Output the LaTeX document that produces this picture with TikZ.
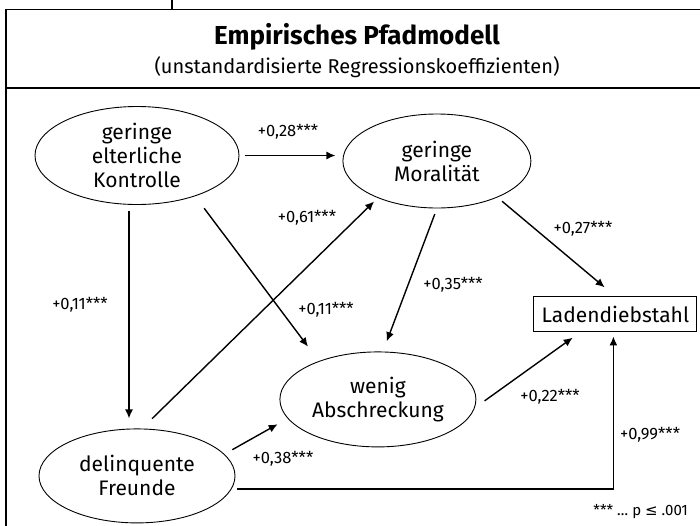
\documentclass[tikz,border=0pt]{standalone}
\usepackage{fontspec}
\setmainfont{Fira Sans}
\newfontfamily\symfont{DejaVu Sans}
\usetikzlibrary{arrows.meta,positioning,shapes.geometric}

\begin{document}
\begin{tikzpicture}[
	x = 1pt, y = 1pt,
	> = {Latex[length=9pt,width=8pt]}, % arrow head style
	line width = 1.4pt, % line style
	V/.style={ellipse, draw=black, line width=0.9pt, inner sep=0pt, minimum width=196pt, minimum height=94pt, align=center, font=\fontsize{21}{24}\selectfont},  % latent variable
	Y/.style={rectangle, draw=black, line width=1.1pt, inner sep=0pt, minimum width=163pt, minimum height=35pt, font=\fontsize{21}{25}\selectfont},      % outcome
	C/.style={inner sep=0pt, font=\fontsize{16.5}{19}\selectfont},  % coefficient
	]

	% Frame and heading
	\useasboundingbox (0,0) rectangle (700,-525);
	\draw[line width=1.3pt] (172,0) -- (172,-9.4);
	\draw[line width=1.3pt] (720,-9.4) -- (6,-9.4) -- (6,-540);
	\draw[line width=1.3pt] (6,-88) -- (720,-88);
	\node[font=\bfseries\fontsize{26}{30}\selectfont] (head) at (357,-37) {Empirisches Pfadmodell};
	\node[font=\fontsize{20}{24}\selectfont] (subhead) at (357,-67) {(unstandardisierte Regressionskoeffizienten)};

	% Nodes and their relative positions
	\node[V, minimum width=204pt, minimum height=98pt] (K) at (137,-155.5) {geringe\\elterliche\\Kontrolle};
	\node[V, minimum width=188pt] (M) [right = 103pt of K, yshift=-5.5pt] {geringe\\Moralität};
	\node[V] (F) [below = 223.5pt of K] {delinquente\\Freunde};
	\node[V, minimum height=95pt] (A) [right = 44pt of F, yshift=76.5pt] {wenig\\Abschreckung};
	\node[Y] (L) [right = 57pt of A, yshift=85pt] {Ladendiebstahl};

	% Paths connecting nodes
	\draw[->, shorten <=6pt, shorten >=7pt] (K.east) -- (K.east -| M.west);
	\draw[->, shorten <=6.5pt, shorten >=10pt] ([xshift=-8pt]K.south) -- ([xshift=-8pt]K.south |- F.north);
	\draw[->, shorten <=15pt, shorten >=18pt] (K.-35) -- (A.147.5);
	\draw[->, shorten <=14pt, shorten >=5pt] (F.84) -- (M.-148);
	\draw[->, shorten <=6pt, shorten >=11pt] (M.south) -- (A.84);
	\draw[->, shorten <=6pt, shorten >=14pt] (M.-31) -- (L.north);
	\draw[->, shorten <=12pt, shorten >=9pt] (A.-5) -- (L.-153);
	\draw[->, shorten <=9pt, shorten >=11.5pt] (F.14) -- (A.-168);
	\draw[->, shorten <=5.5pt, shorten >=4pt] (F.-8.5) -| ([xshift=-2pt]L.south);

	% Coefficients
	\node[C] (cKM) at (288,-132) {+0,28***};
	\node[C] (cKF) at (80,-305) {+0,11***};
	\node[C] (cKA) at (326,-310) {+0,11***};
	\node[C] (cFM) at (307,-218) {+0,61***};
	\node[C] (cMA) at (453,-285) {+0,35***};
	\node[C] (cML) at (583,-229) {+0,27***};
	\node[C] (cAL) at (550,-397) {+0,22***};
	\node[C] (cFA) at (283,-459) {+0,38***};
	\node[C] (cFL) at (650,-435) {+0,99***};
	\node[font=\fontsize{15}{18}\selectfont, anchor=east] (note) at (692,-512) {*** … p {\symfont ≤} .001};

\end{tikzpicture}
\end{document}
